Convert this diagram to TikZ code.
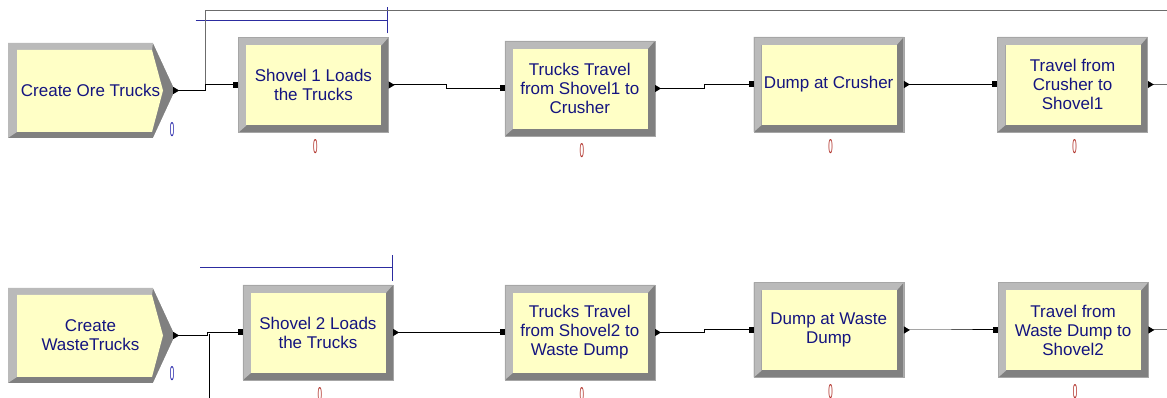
\documentclass[tikz,border=0pt]{standalone}
\usepackage{fontspec}
\setmainfont{Liberation Sans}
\usepackage{graphicx}
\usetikzlibrary{positioning}
\usetikzlibrary{calc}
\usetikzlibrary{arrows.meta}
\definecolor{boxfill}{RGB}{255,255,198}
\definecolor{bevlight}{RGB}{186,186,186}
\definecolor{bevdark}{RGB}{128,128,128}
\definecolor{navy}{RGB}{20,20,128}
\definecolor{cntred}{RGB}{176,48,40}
\definecolor{cntblue}{RGB}{36,36,170}
\definecolor{queueblue}{RGB}{44,44,160}

\begin{document}
\begin{tikzpicture}[
    x=1pt, y=1pt,
    proc/.style={rectangle, minimum width=150pt, minimum height=95pt, inner sep=0pt, align=center,
        font=\fontsize{17}{19}\selectfont, text=navy, draw=gray!70,
        path picture={
            \coordinate (ppsw) at (path picture bounding box.south west);
            \coordinate (ppne) at (path picture bounding box.north east);
            \fill[bevdark] (ppsw) rectangle (ppne);
            \fill[bevlight] (ppsw) -- (ppsw |- ppne) -- (ppne) -- ($(ppne)+(-7,-8)$)
                -- ($(ppsw |- ppne)+(8,-8)$) -- ($(ppsw)+(8,7)$) -- cycle;
            \fill[boxfill] ($(ppsw)+(8,7)$) rectangle ($(ppne)+(-7,-8)$);
        }},
    create/.style={rectangle, minimum width=165pt, minimum height=95pt, inner sep=0pt, align=center,
        font=\fontsize{17}{19}\selectfont, text=navy,
        path picture={
            \coordinate (ppsw) at (path picture bounding box.south west);
            \coordinate (ppne) at (path picture bounding box.north east);
            \coordinate (ppe) at (path picture bounding box.east);
            \fill[bevdark] (ppsw) rectangle (ppne);
            \fill[bevlight] (ppsw) -- (ppsw |- ppne) -- ($(ppne)+(-20,0)$) -- ($(ppne)+(-21,-7)$)
                -- ($(ppsw |- ppne)+(9,-7)$) -- ($(ppsw)+(9,6)$) -- cycle;
            \fill[boxfill] ($(ppsw |- ppne)+(9,-7)$) -- ($(ppne)+(-21,-7)$) -- ($(ppe)+(-10,0)$)
                -- ($(ppsw -| ppne)+(-21,6)$) -- ($(ppsw)+(9,6)$) -- cycle;
            \fill[white] ($(ppne)+(-20,0)$) -- ($(ppne)+(2,2)$) -- ($(ppe)+(2,0)$) -- cycle;
            \fill[white] ($(ppsw -| ppne)+(-20,0)$) -- ($(ppsw -| ppne)+(2,-2)$) -- ($(ppe)+(2,0)$) -- cycle;
        }},
    cnt/.style={inner sep=0pt, font=\fontsize{20}{20}\selectfont},
    jog/.style={to path={let \p1=(\tikztostart), \p2=(\tikztotarget) in
        -- ({(\x1+\x2)/2},\y1) -- ({(\x1+\x2)/2},\y2) -- (\tikztotarget)}},
    link/.style={line width=1pt, {Triangle[length=6pt,width=7pt,reversed]}-{Square[length=5pt,width=6pt]}},
    outlink/.style={line width=1pt, draw=gray!85!black, {Triangle[length=6pt,width=7pt,reversed,black]}-},
    retline/.style={line width=1pt, draw=gray!85!black},
    queue/.style={line width=1pt, draw=queueblue}
]
    \useasboundingbox (0,0) rectangle (1167,398);

    % ore trucks
    \node[create] (ore) at (90.5,307.5) {Create Ore Trucks};
    \node[proc, right=65pt of ore, yshift=5.5pt] (sh1) {Shovel 1 Loads\\the Trucks};
    \node[proc, right=116pt of sh1, yshift=-3.5pt] (tt1) {Trucks Travel\\from Shovel1 to\\Crusher};
    \node[proc, right=98.5pt of tt1, yshift=4pt] (dc) {Dump at Crusher};
    \node[proc, right=93.5pt of dc] (tfc) {Travel from\\Crusher to\\Shovel1};

    % waste trucks
    \node[create] (ws) at (90.5,62.5) {Create\\WasteTrucks};
    \node[proc, right=69.5pt of ws, yshift=3pt] (sh2) {Shovel 2 Loads\\the Trucks};
    \node[proc, right=111.5pt of sh2] (tt2) {Trucks Travel\\from Shovel2 to\\Waste Dump};
    \node[proc, right=98.5pt of tt2, yshift=2.5pt] (dw) {Dump at Waste\\Dump};
    \node[proc, right=94pt of dw] (tfw) {Travel from\\Waste Dump to\\Shovel2};

    % counters
    \node[cnt, text=cntblue] (oren) at ([xshift=-1pt,yshift=9pt]ore.south east) {\scalebox{0.4}[1]{0}};
    \node[cnt, text=cntblue] (wsn) at ([xshift=-1pt,yshift=10pt]ws.south east) {\scalebox{0.4}[1]{0}};
    \foreach \b in {sh1,tt1,dc,tfc,sh2,tt2,dw,tfw}
        \node[cnt, text=cntred, below=7pt of \b, xshift=2pt] (\b n) {\scalebox{0.4}[1]{0}};

    % queues
    \foreach \q in {sh1,sh2} {
        \draw[queue] ([shift={(-193,17)}]\q.north east) -- ([shift={(-1,17)}]\q.north east);
        \draw[queue] ([shift={(-1,4)}]\q.north east) -- ([shift={(-1,30)}]\q.north east);
    }

    % returns from the right
    \coordinate (j1) at ($(ore.east)!.5!(sh1.west)$);
    \coordinate (j2) at ($(ws.east)!.5!(sh2.west)$);
    \coordinate (ret1) at (1167,387);
    \coordinate (ret2) at ([xshift=2pt]j2 |- 0,0);
    \coordinate (out1) at (tfc.east -| ret1);
    \coordinate (out2) at (tfw.east -| ret1);
    \draw[retline] (ret1) -| (j1);
    \draw[line width=1pt] (ret2) -- (ret2 |- j2);

    \draw[link] (ore.east) to[jog] (sh1.west);
    \draw[link] (sh1.east) to[jog] (tt1.west);
    \draw[link] (tt1.east) to[jog] (dc.west);
    \draw[link] (dc.east) to[jog] (tfc.west);
    \draw[outlink] (tfc.east) -- (out1);

    \draw[link] (ws.east) to[jog] (sh2.west);
    \draw[link] (sh2.east) to[jog] (tt2.west);
    \draw[link] (tt2.east) to[jog] (dw.west);
    \draw[link] (dw.east) to[jog] (tfw.west);
    \draw[outlink] (tfw.east) -- (out2);
\end{tikzpicture}
\end{document}
